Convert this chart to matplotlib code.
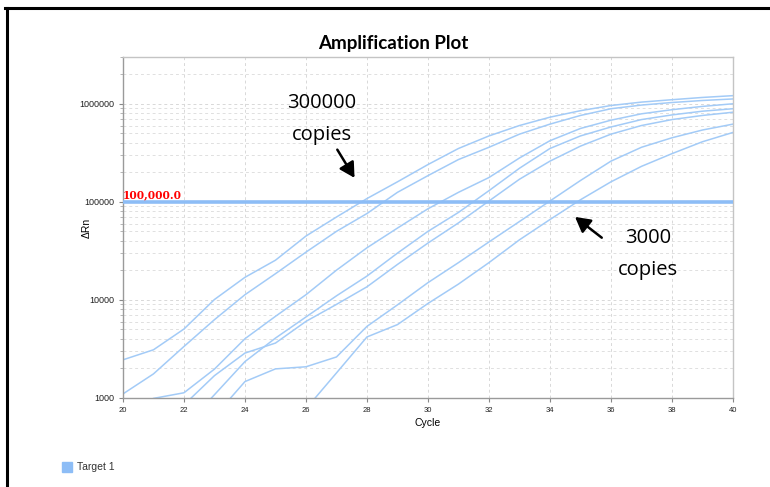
import matplotlib

matplotlib.use("Agg")
import matplotlib.pyplot as plt
from matplotlib.lines import Line2D
from matplotlib.patches import Rectangle
from matplotlib.ticker import LogLocator, NullFormatter, FixedLocator

# ---------------------------------------------------------------------------
# Data (delta Rn per cycle, one list per well).
# ---------------------------------------------------------------------------
cycles = list(range(20, 41))

well_1 = [2450, 3100, 5050, 10100, 17000, 25400, 44800, 70000, 108000, 160000,
          240000, 350000, 470000, 600000, 730000, 850000, 960000, 1040000,
          1100000, 1160000, 1210000]
well_2 = [1100, 1760, 3350, 6290, 11300, 18500, 30700, 50000, 76000, 125000,
          185000, 270000, 360000, 490000, 620000, 760000, 890000, 970000,
          1030000, 1080000, 1120000]
well_3 = [700, 990, 1130, 1970, 4020, 6800, 11300, 20100, 34000, 54000,
          85000, 125000, 177000, 280000, 420000, 560000, 680000, 790000,
          870000, 940000, 1000000]
well_4 = [300, 500, 850, 1690, 2870, 3630, 6040, 9000, 13600, 23000, 38000,
          61000, 102000, 170000, 260000, 370000, 490000, 600000, 690000,
          760000, 820000]
well_5 = [200, 300, 500, 1080, 2350, 4080, 6700, 11000, 17500, 30000, 50000,
          78000, 130000, 220000, 350000, 470000, 580000, 690000, 770000,
          840000, 890000]
well_6 = [200, 300, 400, 650, 1470, 1980, 2080, 2620, 5370, 8900, 15000,
          24000, 39000, 63000, 102000, 165000, 260000, 360000, 450000,
          540000, 620000]
well_7 = [100, 200, 300, 450, 500, 600, 776, 1800, 4190, 5600, 9200, 14500,
          24000, 41000, 66000, 105000, 160000, 230000, 310000, 410000, 510000]

wells = [well_1, well_2, well_3, well_4, well_5, well_6, well_7]

threshold = 100000
x_ticks = [20, 22, 24, 26, 28, 30, 32, 34, 36, 38, 40]
y_ticks = [1000, 10000, 100000, 1000000]

CURVE = "#a3cbf7"
THRESH = "#8dbdf6"

fig = plt.figure(figsize=(7.7, 4.87), dpi=100)
ax = fig.add_axes([0.1597, 0.1828, 0.7922, 0.7002])

for well in wells:
    ax.plot(cycles, well, color=CURVE, linewidth=1.1)

ax.axhline(threshold, color=THRESH, linewidth=2.6, zorder=3)
ax.text(20.0, threshold * 1.04, "100,000.0", color="red", fontsize=7.7,
        fontweight="bold", family="DejaVu Serif", va="bottom", ha="left")

ax.set_yscale("log")
ax.set_xlim(20, 40)
ax.set_ylim(1000, 3.0e6)
ax.xaxis.set_major_locator(FixedLocator(x_ticks))
ax.yaxis.set_major_locator(FixedLocator(y_ticks))
ax.yaxis.set_minor_locator(LogLocator(base=10, subs=range(2, 10)))
ax.yaxis.set_minor_formatter(NullFormatter())
ax.set_yticklabels([str(v) for v in y_ticks])

ax.tick_params(axis="both", which="major", labelsize=6.5, length=3,
               color="#888888", labelcolor="#222222")
ax.tick_params(axis="y", which="minor", length=2, color="#aaaaaa")
ax.tick_params(axis="x", labelsize=5.5)
for lab in ax.get_xticklabels() + ax.get_yticklabels():
    lab.set_family("Liberation Sans")

ax.grid(True, which="major", linestyle=(0, (3, 3)), color="#d8d8d8", linewidth=0.7)
ax.grid(True, which="minor", axis="y", linestyle=(0, (3, 3)), color="#e0e0e0",
        linewidth=0.7)

for name, sp in ax.spines.items():
    sp.set_color("#c4c4c4")
    sp.set_linewidth(1.0)
ax.spines["left"].set_color("#9a9a9a")
ax.spines["bottom"].set_color("#9a9a9a")

ax.set_xlabel("Cycle", fontsize=7.5, family="Liberation Sans", labelpad=3)
ax.set_ylabel("ΔRn", fontsize=7.5, family="Liberation Sans")
ax.yaxis.set_label_coords(-0.051, 0.5)
fig.text(393 / 770, 1 - 43 / 487, "Amplification Plot", fontsize=13.5,
         fontweight="bold", family="Lato", ha="center", va="center")

# annotations with arrows
ax.text(26.52, 1.02e6, "300000", fontsize=14.5, family="Open Sans",
        ha="center", va="center")
ax.text(26.52, 4.8e5, "copies", fontsize=14.5, family="Open Sans",
        ha="center", va="center")
ax.annotate("", xy=(27.64, 1.66e5), xytext=(26.98, 3.6e5),
            arrowprops=dict(arrowstyle="-|>,head_length=0.9,head_width=0.5",
                            color="black", lw=1.8))
ax.text(37.21, 4.24e4, "3000", fontsize=14.5, family="Open Sans",
        ha="center", va="center")
ax.text(37.21, 2.0e4, "copies", fontsize=14.5, family="Open Sans",
        ha="center", va="center")
ax.annotate("", xy=(34.75, 7.3e4), xytext=(35.77, 4.14e4),
            arrowprops=dict(arrowstyle="-|>,head_length=0.9,head_width=0.5",
                            color="black", lw=1.8))

# legend swatch
fig.patches.append(Rectangle((62 / 770, 1 - 472 / 487), 10 / 770, 10 / 487,
                             transform=fig.transFigure, color=THRESH))
fig.text(77 / 770, 1 - 467 / 487, "Target 1", fontsize=7.5, va="center",
         color="#333333", family="Liberation Sans")

# black frame on top and left
fig.lines.append(Line2D([5 / 770, 1], [1 - 8 / 487, 1 - 8 / 487],
                        transform=fig.transFigure, color="black", lw=2.2))
fig.lines.append(Line2D([7 / 770, 7 / 770], [0, 1 - 8 / 487],
                        transform=fig.transFigure, color="black", lw=2.2))

fig.savefig("out.png", dpi=100)
